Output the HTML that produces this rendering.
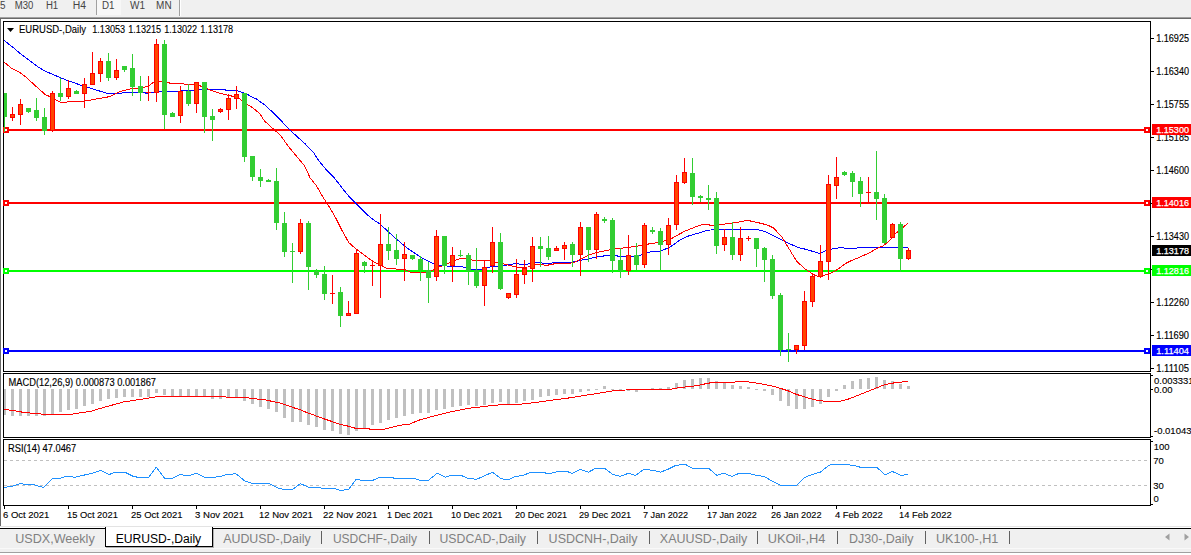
<!DOCTYPE html>
<html><head><meta charset="utf-8"><style>
html,body{margin:0;padding:0;background:#fff;width:1191px;height:555px;overflow:hidden;position:relative;font-family:"Liberation Sans", sans-serif;}
svg text{font-family:"Liberation Sans", sans-serif;}
</style></head><body>
<svg width="1191" height="555" viewBox="0 0 1191 555" style="position:absolute;left:0;top:0"><rect x="0" y="0" width="1191" height="17" fill="#f0f0f0"/><rect x="0" y="17" width="1191" height="1" fill="#a0a0a0"/><rect x="0" y="18" width="1191" height="1" fill="#696969"/><rect x="96" y="0" width="1" height="15" fill="#a0a0a0"/><rect x="97" y="0" width="24" height="15" fill="#f7f7f7"/><rect x="179" y="0" width="1" height="16" fill="#a0a0a0"/><rect x="180" y="0" width="1" height="16" fill="#ffffff"/><text x="0.0" y="9" font-size="10" fill="#444" textLength="5.5" lengthAdjust="spacingAndGlyphs">5</text><text x="14.8" y="9" font-size="10" fill="#444" textLength="18.5" lengthAdjust="spacingAndGlyphs">M30</text><text x="45.9" y="9" font-size="10" fill="#444" textLength="12.3" lengthAdjust="spacingAndGlyphs">H1</text><text x="72.8" y="9" font-size="10" fill="#444" textLength="13.3" lengthAdjust="spacingAndGlyphs">H4</text><text x="101.9" y="9" font-size="10" fill="#444" textLength="12.5" lengthAdjust="spacingAndGlyphs">D1</text><text x="130.0" y="9" font-size="10" fill="#444" textLength="15" lengthAdjust="spacingAndGlyphs">W1</text><text x="156.1" y="9" font-size="10" fill="#444" textLength="15.5" lengthAdjust="spacingAndGlyphs">MN</text><rect x="0" y="19" width="1" height="507" fill="#6a6a6a"/><defs><clipPath id="cm"><rect x="4" y="22" width="1146" height="349"/></clipPath><clipPath id="cmacd"><rect x="4" y="374" width="1146" height="63"/></clipPath><clipPath id="crsi"><rect x="4" y="440" width="1146" height="65"/></clipPath></defs><rect x="3" y="21" width="1148" height="1" fill="#000"/><rect x="3" y="371" width="1148" height="1" fill="#000"/><rect x="3" y="21" width="1" height="351" fill="#000"/><rect x="1150" y="21" width="1" height="351" fill="#000"/><rect x="3" y="373" width="1148" height="1" fill="#000"/><rect x="3" y="437" width="1148" height="1" fill="#000"/><rect x="3" y="373" width="1" height="65" fill="#000"/><rect x="1150" y="373" width="1" height="65" fill="#000"/><rect x="3" y="439" width="1148" height="1" fill="#000"/><rect x="3" y="505" width="1148" height="1" fill="#000"/><rect x="3" y="439" width="1" height="67" fill="#000"/><rect x="1150" y="439" width="1" height="67" fill="#000"/><g clip-path="url(#cm)"><rect x="4" y="129" width="1146" height="2" fill="#ff0000"/><rect x="4" y="202" width="1146" height="2" fill="#ff0000"/><rect x="4" y="270" width="1146" height="2" fill="#00ff00"/><rect x="4" y="350" width="1146" height="2" fill="#0000ff"/></g><rect x="3" y="127" width="6" height="6" fill="#ff0000"/><rect x="5" y="129" width="2" height="2" fill="#fff"/><rect x="3" y="200" width="6" height="6" fill="#ff0000"/><rect x="5" y="202" width="2" height="2" fill="#fff"/><rect x="3" y="268" width="6" height="6" fill="#00ff00"/><rect x="5" y="270" width="2" height="2" fill="#fff"/><rect x="3" y="348" width="6" height="6" fill="#0000ff"/><rect x="5" y="350" width="2" height="2" fill="#fff"/><g clip-path="url(#cm)"><polyline points="4.0,40.4 13.5,47.8 21.6,54.6 29.7,60.7 37.8,66.8 45.9,71.5 54.0,74.9 60.8,78.0 81.4,85.4 107.9,93.6 120.0,93.3 128.1,92.0 144.3,92.0 146.0,93.3 152.4,92.5 160.5,91.7 176.7,91.7 180.0,91.0 200.0,89.8 207.0,89.2 225.0,89.4 225.9,90.5 236.8,90.5 239.5,91.4 246.7,93.9 250.3,96.2 256.2,98.9 264.3,104.6 272.4,111.9 280.5,120.0 288.6,128.9 296.7,136.2 304.8,143.5 312.9,151.6 318.9,160.8 326.2,169.7 334.3,177.8 342.4,188.4 350.5,198.1 358.6,206.2 366.7,214.3 374.8,220.8 379.7,223.8 394.9,237.8 407.8,248.6 420.8,257.3 433.8,263.8 439.2,265.8 461.9,266.4 468.2,269.0 483.3,269.2 490.8,266.7 500.0,266.2 509.7,264.6 516.2,263.4 521.0,264.6 527.6,264.1 537.3,262.5 545.4,263.4 561.6,262.5 573.0,262.1 580.0,260.4 590.0,258.6 597.1,256.7 610.0,255.3 615.7,255.3 618.6,256.4 630.0,256.4 638.6,255.7 642.9,254.3 650.0,251.9 660.0,251.4 670.0,247.1 680.0,240.0 687.1,236.4 698.6,233.1 707.3,230.2 718.8,229.5 757.7,229.5 764.9,231.6 776.5,237.4 783.7,241.0 798.1,247.5 805.3,249.2 820.0,253.5 825.0,251.0 832.6,248.8 840.2,247.6 849.0,248.5 864.2,247.6 907.8,247.6" fill="none" stroke="#0000ff" stroke-width="1" shape-rendering="crispEdges"/><polyline points="4.0,62.0 12.2,68.8 19.6,72.2 25.7,76.9 32.4,83.0 40.5,90.4 45.9,95.1 50.0,96.5 56.8,100.5 60.8,102.3 84.0,101.2 109.2,96.7 120.0,91.7 128.1,89.3 136.2,88.2 144.3,87.2 149.2,85.6 154.0,82.0 158.9,81.2 167.0,82.0 170.2,83.3 180.0,83.3 185.4,84.2 194.4,84.2 198.9,85.1 201.6,86.7 207.0,88.5 210.6,90.3 216.0,92.1 222.3,93.9 228.6,95.3 234.0,96.6 239.5,98.9 242.2,100.7 247.6,104.7 252.1,107.4 260.0,113.7 264.3,120.8 272.4,128.1 280.5,135.4 288.6,146.7 296.7,156.5 304.8,166.2 310.0,177.8 316.5,185.9 323.0,197.3 329.4,207.0 335.9,218.3 342.4,231.3 348.9,242.7 356.2,249.1 373.2,261.6 387.3,268.8 404.6,269.2 411.0,272.5 426.0,272.5 434.0,269.6 439.2,267.1 448.0,263.3 455.6,260.2 460.6,258.3 465.6,258.9 473.2,260.2 489.6,260.2 497.1,262.7 503.2,263.8 509.7,265.4 516.2,267.0 521.0,267.3 527.6,267.0 537.3,264.1 547.0,265.4 551.9,264.1 572.9,262.9 580.0,259.4 589.0,254.9 598.0,252.2 607.0,250.4 617.8,248.6 628.6,247.3 641.3,245.5 648.5,244.0 660.0,242.3 671.4,238.6 684.3,231.4 700.1,225.1 705.9,224.4 713.1,225.6 721.7,224.4 733.2,223.0 747.6,220.4 756.3,222.2 767.8,225.1 773.6,228.0 782.2,237.4 790.9,251.8 796.6,261.2 805.3,269.1 813.9,274.8 819.7,277.0 832.6,272.4 837.7,269.3 845.3,263.6 851.6,260.5 857.9,257.9 864.2,255.2 870.5,252.2 876.8,248.5 883.1,245.9 888.2,242.1 892.0,237.7 895.8,233.3 900.8,229.5 907.8,223.2" fill="none" stroke="#ff0000" stroke-width="1" shape-rendering="crispEdges"/><rect x="4" y="93" width="1" height="39" fill="#32cd32"/><rect x="2" y="93" width="5" height="24" fill="#32cd32"/><rect x="12" y="107" width="1" height="14" fill="#ff0000"/><rect x="10" y="114" width="5" height="4" fill="#ff0000"/><rect x="11" y="115" width="3" height="2" fill="#ff4500"/><rect x="20" y="99" width="1" height="26" fill="#ff0000"/><rect x="18" y="104" width="5" height="11" fill="#ff0000"/><rect x="19" y="105" width="3" height="9" fill="#ff4500"/><rect x="28" y="108" width="1" height="5" fill="#32cd32"/><rect x="26" y="108" width="5" height="4" fill="#32cd32"/><rect x="36" y="98" width="1" height="23" fill="#32cd32"/><rect x="34" y="110" width="5" height="8" fill="#32cd32"/><rect x="44" y="108" width="1" height="27" fill="#32cd32"/><rect x="42" y="117" width="5" height="14" fill="#32cd32"/><rect x="52" y="91" width="1" height="41" fill="#ff0000"/><rect x="50" y="93" width="5" height="38" fill="#ff0000"/><rect x="51" y="94" width="3" height="36" fill="#ff4500"/><rect x="60" y="78" width="1" height="23" fill="#32cd32"/><rect x="58" y="93" width="5" height="4" fill="#32cd32"/><rect x="68" y="80" width="1" height="19" fill="#ff0000"/><rect x="66" y="88" width="5" height="9" fill="#ff0000"/><rect x="67" y="89" width="3" height="7" fill="#ff4500"/><rect x="76" y="90" width="1" height="4" fill="#32cd32"/><rect x="74" y="91" width="5" height="3" fill="#32cd32"/><rect x="84" y="78" width="1" height="30" fill="#ff0000"/><rect x="82" y="84" width="5" height="10" fill="#ff0000"/><rect x="83" y="85" width="3" height="8" fill="#ff4500"/><rect x="92" y="52" width="1" height="33" fill="#ff0000"/><rect x="90" y="73" width="5" height="12" fill="#ff0000"/><rect x="91" y="74" width="3" height="10" fill="#ff4500"/><rect x="100" y="58" width="1" height="24" fill="#ff0000"/><rect x="98" y="61" width="5" height="13" fill="#ff0000"/><rect x="99" y="62" width="3" height="11" fill="#ff4500"/><rect x="108" y="53" width="1" height="28" fill="#32cd32"/><rect x="106" y="61" width="5" height="17" fill="#32cd32"/><rect x="116" y="59" width="1" height="21" fill="#ff0000"/><rect x="114" y="70" width="5" height="8" fill="#ff0000"/><rect x="115" y="71" width="3" height="6" fill="#ff4500"/><rect x="124" y="66" width="1" height="6" fill="#32cd32"/><rect x="122" y="66" width="5" height="4" fill="#32cd32"/><rect x="132" y="54" width="1" height="42" fill="#32cd32"/><rect x="130" y="68" width="5" height="19" fill="#32cd32"/><rect x="140" y="76" width="1" height="25" fill="#32cd32"/><rect x="138" y="86" width="5" height="7" fill="#32cd32"/><rect x="148" y="76" width="1" height="25" fill="#ff0000"/><rect x="146" y="92" width="5" height="1" fill="#ff0000"/><rect x="156" y="39" width="1" height="63" fill="#ff0000"/><rect x="154" y="44" width="5" height="49" fill="#ff0000"/><rect x="155" y="45" width="3" height="47" fill="#ff4500"/><rect x="164" y="40" width="1" height="89" fill="#32cd32"/><rect x="162" y="44" width="5" height="71" fill="#32cd32"/><rect x="172" y="112" width="1" height="5" fill="#32cd32"/><rect x="170" y="113" width="5" height="4" fill="#32cd32"/><rect x="180" y="86" width="1" height="37" fill="#ff0000"/><rect x="178" y="91" width="5" height="25" fill="#ff0000"/><rect x="179" y="92" width="3" height="23" fill="#ff4500"/><rect x="188" y="84" width="1" height="22" fill="#32cd32"/><rect x="186" y="91" width="5" height="13" fill="#32cd32"/><rect x="196" y="82" width="1" height="31" fill="#ff0000"/><rect x="194" y="82" width="5" height="22" fill="#ff0000"/><rect x="195" y="83" width="3" height="20" fill="#ff4500"/><rect x="204" y="82" width="1" height="51" fill="#32cd32"/><rect x="202" y="82" width="5" height="35" fill="#32cd32"/><rect x="212" y="109" width="1" height="32" fill="#32cd32"/><rect x="210" y="116" width="5" height="4" fill="#32cd32"/><rect x="220" y="108" width="1" height="5" fill="#ff0000"/><rect x="218" y="109" width="5" height="3" fill="#ff0000"/><rect x="219" y="110" width="3" height="1" fill="#ff4500"/><rect x="228" y="94" width="1" height="26" fill="#ff0000"/><rect x="226" y="98" width="5" height="12" fill="#ff0000"/><rect x="227" y="99" width="3" height="10" fill="#ff4500"/><rect x="236" y="86" width="1" height="23" fill="#ff0000"/><rect x="234" y="94" width="5" height="5" fill="#ff0000"/><rect x="235" y="95" width="3" height="3" fill="#ff4500"/><rect x="244" y="93" width="1" height="69" fill="#32cd32"/><rect x="242" y="93" width="5" height="64" fill="#32cd32"/><rect x="252" y="156" width="1" height="25" fill="#32cd32"/><rect x="250" y="156" width="5" height="21" fill="#32cd32"/><rect x="260" y="169" width="1" height="18" fill="#32cd32"/><rect x="258" y="177" width="5" height="4" fill="#32cd32"/><rect x="268" y="179" width="1" height="3" fill="#32cd32"/><rect x="266" y="180" width="5" height="2" fill="#32cd32"/><rect x="276" y="168" width="1" height="62" fill="#32cd32"/><rect x="274" y="181" width="5" height="42" fill="#32cd32"/><rect x="284" y="212" width="1" height="45" fill="#32cd32"/><rect x="282" y="223" width="5" height="29" fill="#32cd32"/><rect x="292" y="243" width="1" height="40" fill="#32cd32"/><rect x="290" y="251" width="5" height="1" fill="#32cd32"/><rect x="300" y="219" width="1" height="35" fill="#ff0000"/><rect x="298" y="223" width="5" height="29" fill="#ff0000"/><rect x="299" y="224" width="3" height="27" fill="#ff4500"/><rect x="308" y="221" width="1" height="69" fill="#32cd32"/><rect x="306" y="223" width="5" height="44" fill="#32cd32"/><rect x="316" y="269" width="1" height="9" fill="#32cd32"/><rect x="314" y="271" width="5" height="4" fill="#32cd32"/><rect x="324" y="266" width="1" height="34" fill="#32cd32"/><rect x="322" y="274" width="5" height="20" fill="#32cd32"/><rect x="332" y="275" width="1" height="29" fill="#ff0000"/><rect x="330" y="293" width="5" height="1" fill="#ff0000"/><rect x="340" y="287" width="1" height="40" fill="#32cd32"/><rect x="338" y="292" width="5" height="24" fill="#32cd32"/><rect x="348" y="301" width="1" height="15" fill="#ff0000"/><rect x="346" y="313" width="5" height="3" fill="#ff0000"/><rect x="347" y="314" width="3" height="1" fill="#ff4500"/><rect x="356" y="250" width="1" height="64" fill="#ff0000"/><rect x="354" y="253" width="5" height="61" fill="#ff0000"/><rect x="355" y="254" width="3" height="59" fill="#ff4500"/><rect x="364" y="261" width="1" height="12" fill="#32cd32"/><rect x="362" y="262" width="5" height="4" fill="#32cd32"/><rect x="372" y="262" width="1" height="24" fill="#ff0000"/><rect x="370" y="265" width="5" height="1" fill="#ff0000"/><rect x="380" y="214" width="1" height="84" fill="#ff0000"/><rect x="378" y="244" width="5" height="22" fill="#ff0000"/><rect x="379" y="245" width="3" height="20" fill="#ff4500"/><rect x="388" y="227" width="1" height="33" fill="#32cd32"/><rect x="386" y="244" width="5" height="7" fill="#32cd32"/><rect x="396" y="234" width="1" height="31" fill="#32cd32"/><rect x="394" y="250" width="5" height="9" fill="#32cd32"/><rect x="404" y="242" width="1" height="39" fill="#ff0000"/><rect x="402" y="254" width="5" height="5" fill="#ff0000"/><rect x="403" y="255" width="3" height="3" fill="#ff4500"/><rect x="412" y="255" width="1" height="5" fill="#32cd32"/><rect x="410" y="255" width="5" height="4" fill="#32cd32"/><rect x="420" y="256" width="1" height="25" fill="#32cd32"/><rect x="418" y="259" width="5" height="11" fill="#32cd32"/><rect x="428" y="262" width="1" height="41" fill="#32cd32"/><rect x="426" y="270" width="5" height="8" fill="#32cd32"/><rect x="436" y="230" width="1" height="51" fill="#ff0000"/><rect x="434" y="236" width="5" height="41" fill="#ff0000"/><rect x="435" y="237" width="3" height="39" fill="#ff4500"/><rect x="444" y="236" width="1" height="38" fill="#32cd32"/><rect x="442" y="236" width="5" height="30" fill="#32cd32"/><rect x="452" y="247" width="1" height="35" fill="#ff0000"/><rect x="450" y="255" width="5" height="11" fill="#ff0000"/><rect x="451" y="256" width="3" height="9" fill="#ff4500"/><rect x="460" y="250" width="1" height="7" fill="#32cd32"/><rect x="458" y="255" width="5" height="1" fill="#32cd32"/><rect x="468" y="253" width="1" height="32" fill="#32cd32"/><rect x="466" y="255" width="5" height="16" fill="#32cd32"/><rect x="476" y="248" width="1" height="40" fill="#32cd32"/><rect x="474" y="270" width="5" height="16" fill="#32cd32"/><rect x="484" y="261" width="1" height="45" fill="#ff0000"/><rect x="482" y="267" width="5" height="19" fill="#ff0000"/><rect x="483" y="268" width="3" height="17" fill="#ff4500"/><rect x="492" y="227" width="1" height="46" fill="#ff0000"/><rect x="490" y="242" width="5" height="24" fill="#ff0000"/><rect x="491" y="243" width="3" height="22" fill="#ff4500"/><rect x="500" y="233" width="1" height="57" fill="#32cd32"/><rect x="498" y="242" width="5" height="47" fill="#32cd32"/><rect x="508" y="293" width="1" height="6" fill="#ff0000"/><rect x="506" y="293" width="5" height="5" fill="#ff0000"/><rect x="507" y="294" width="3" height="3" fill="#ff4500"/><rect x="516" y="259" width="1" height="39" fill="#ff0000"/><rect x="514" y="274" width="5" height="21" fill="#ff0000"/><rect x="515" y="275" width="3" height="19" fill="#ff4500"/><rect x="524" y="260" width="1" height="24" fill="#ff0000"/><rect x="522" y="268" width="5" height="7" fill="#ff0000"/><rect x="523" y="269" width="3" height="5" fill="#ff4500"/><rect x="532" y="237" width="1" height="45" fill="#ff0000"/><rect x="530" y="246" width="5" height="23" fill="#ff0000"/><rect x="531" y="247" width="3" height="21" fill="#ff4500"/><rect x="540" y="237" width="1" height="30" fill="#32cd32"/><rect x="538" y="246" width="5" height="3" fill="#32cd32"/><rect x="548" y="236" width="1" height="24" fill="#32cd32"/><rect x="546" y="248" width="5" height="9" fill="#32cd32"/><rect x="556" y="246" width="1" height="5" fill="#ff0000"/><rect x="554" y="248" width="5" height="3" fill="#ff0000"/><rect x="555" y="249" width="3" height="1" fill="#ff4500"/><rect x="564" y="242" width="1" height="18" fill="#ff0000"/><rect x="562" y="245" width="5" height="4" fill="#ff0000"/><rect x="563" y="246" width="3" height="2" fill="#ff4500"/><rect x="572" y="242" width="1" height="25" fill="#32cd32"/><rect x="570" y="244" width="5" height="11" fill="#32cd32"/><rect x="580" y="222" width="1" height="54" fill="#ff0000"/><rect x="578" y="227" width="5" height="28" fill="#ff0000"/><rect x="579" y="228" width="3" height="26" fill="#ff4500"/><rect x="588" y="227" width="1" height="35" fill="#32cd32"/><rect x="586" y="227" width="5" height="23" fill="#32cd32"/><rect x="596" y="212" width="1" height="47" fill="#ff0000"/><rect x="594" y="214" width="5" height="36" fill="#ff0000"/><rect x="595" y="215" width="3" height="34" fill="#ff4500"/><rect x="604" y="217" width="1" height="6" fill="#32cd32"/><rect x="602" y="219" width="5" height="2" fill="#32cd32"/><rect x="612" y="218" width="1" height="55" fill="#32cd32"/><rect x="610" y="220" width="5" height="41" fill="#32cd32"/><rect x="620" y="248" width="1" height="30" fill="#32cd32"/><rect x="618" y="260" width="5" height="11" fill="#32cd32"/><rect x="628" y="235" width="1" height="40" fill="#ff0000"/><rect x="626" y="255" width="5" height="16" fill="#ff0000"/><rect x="627" y="256" width="3" height="14" fill="#ff4500"/><rect x="636" y="243" width="1" height="27" fill="#32cd32"/><rect x="634" y="255" width="5" height="10" fill="#32cd32"/><rect x="644" y="223" width="1" height="45" fill="#ff0000"/><rect x="642" y="225" width="5" height="40" fill="#ff0000"/><rect x="643" y="226" width="3" height="38" fill="#ff4500"/><rect x="652" y="227" width="1" height="7" fill="#32cd32"/><rect x="650" y="230" width="5" height="2" fill="#32cd32"/><rect x="660" y="228" width="1" height="42" fill="#32cd32"/><rect x="658" y="231" width="5" height="14" fill="#32cd32"/><rect x="668" y="218" width="1" height="37" fill="#ff0000"/><rect x="666" y="225" width="5" height="20" fill="#ff0000"/><rect x="667" y="226" width="3" height="18" fill="#ff4500"/><rect x="676" y="175" width="1" height="55" fill="#ff0000"/><rect x="674" y="182" width="5" height="43" fill="#ff0000"/><rect x="675" y="183" width="3" height="41" fill="#ff4500"/><rect x="684" y="158" width="1" height="26" fill="#ff0000"/><rect x="682" y="172" width="5" height="11" fill="#ff0000"/><rect x="683" y="173" width="3" height="9" fill="#ff4500"/><rect x="692" y="158" width="1" height="47" fill="#32cd32"/><rect x="690" y="173" width="5" height="24" fill="#32cd32"/><rect x="700" y="195" width="1" height="7" fill="#32cd32"/><rect x="698" y="196" width="5" height="2" fill="#32cd32"/><rect x="708" y="185" width="1" height="25" fill="#32cd32"/><rect x="706" y="198" width="5" height="2" fill="#32cd32"/><rect x="716" y="192" width="1" height="62" fill="#32cd32"/><rect x="714" y="198" width="5" height="48" fill="#32cd32"/><rect x="724" y="229" width="1" height="22" fill="#ff0000"/><rect x="722" y="237" width="5" height="8" fill="#ff0000"/><rect x="723" y="238" width="3" height="6" fill="#ff4500"/><rect x="732" y="222" width="1" height="38" fill="#32cd32"/><rect x="730" y="237" width="5" height="18" fill="#32cd32"/><rect x="740" y="227" width="1" height="34" fill="#ff0000"/><rect x="738" y="238" width="5" height="17" fill="#ff0000"/><rect x="739" y="239" width="3" height="15" fill="#ff4500"/><rect x="748" y="236" width="1" height="5" fill="#ff0000"/><rect x="746" y="238" width="5" height="1" fill="#ff0000"/><rect x="756" y="238" width="1" height="29" fill="#32cd32"/><rect x="754" y="238" width="5" height="11" fill="#32cd32"/><rect x="764" y="247" width="1" height="35" fill="#32cd32"/><rect x="762" y="248" width="5" height="12" fill="#32cd32"/><rect x="772" y="255" width="1" height="44" fill="#32cd32"/><rect x="770" y="259" width="5" height="37" fill="#32cd32"/><rect x="780" y="293" width="1" height="63" fill="#32cd32"/><rect x="778" y="295" width="5" height="55" fill="#32cd32"/><rect x="788" y="333" width="1" height="29" fill="#32cd32"/><rect x="786" y="349" width="5" height="1" fill="#32cd32"/><rect x="796" y="345" width="1" height="9" fill="#ff0000"/><rect x="794" y="345" width="5" height="5" fill="#ff0000"/><rect x="795" y="346" width="3" height="3" fill="#ff4500"/><rect x="804" y="291" width="1" height="59" fill="#ff0000"/><rect x="802" y="301" width="5" height="45" fill="#ff0000"/><rect x="803" y="302" width="3" height="43" fill="#ff4500"/><rect x="812" y="273" width="1" height="34" fill="#ff0000"/><rect x="810" y="276" width="5" height="26" fill="#ff0000"/><rect x="811" y="277" width="3" height="24" fill="#ff4500"/><rect x="820" y="245" width="1" height="33" fill="#ff0000"/><rect x="818" y="261" width="5" height="16" fill="#ff0000"/><rect x="819" y="262" width="3" height="14" fill="#ff4500"/><rect x="828" y="175" width="1" height="105" fill="#ff0000"/><rect x="826" y="184" width="5" height="78" fill="#ff0000"/><rect x="827" y="185" width="3" height="76" fill="#ff4500"/><rect x="836" y="157" width="1" height="42" fill="#ff0000"/><rect x="834" y="177" width="5" height="9" fill="#ff0000"/><rect x="835" y="178" width="3" height="7" fill="#ff4500"/><rect x="844" y="171" width="1" height="5" fill="#32cd32"/><rect x="842" y="172" width="5" height="3" fill="#32cd32"/><rect x="852" y="171" width="1" height="26" fill="#32cd32"/><rect x="850" y="173" width="5" height="9" fill="#32cd32"/><rect x="860" y="177" width="1" height="30" fill="#32cd32"/><rect x="858" y="181" width="5" height="13" fill="#32cd32"/><rect x="868" y="177" width="1" height="25" fill="#ff0000"/><rect x="866" y="192" width="5" height="1" fill="#ff0000"/><rect x="876" y="151" width="1" height="69" fill="#32cd32"/><rect x="874" y="192" width="5" height="7" fill="#32cd32"/><rect x="884" y="194" width="1" height="50" fill="#32cd32"/><rect x="882" y="198" width="5" height="45" fill="#32cd32"/><rect x="892" y="223" width="1" height="15" fill="#ff0000"/><rect x="890" y="224" width="5" height="14" fill="#ff0000"/><rect x="891" y="225" width="3" height="12" fill="#ff4500"/><rect x="900" y="222" width="1" height="50" fill="#32cd32"/><rect x="898" y="224" width="5" height="35" fill="#32cd32"/><rect x="908" y="248" width="1" height="12" fill="#ff0000"/><rect x="906" y="250" width="5" height="9" fill="#ff0000"/><rect x="907" y="251" width="3" height="7" fill="#ff4500"/></g><rect x="1144" y="127" width="6" height="6" fill="#ff0000"/><rect x="1146" y="129" width="2" height="2" fill="#fff"/><rect x="1144" y="200" width="6" height="6" fill="#ff0000"/><rect x="1146" y="202" width="2" height="2" fill="#fff"/><rect x="1144" y="268" width="6" height="6" fill="#00ff00"/><rect x="1146" y="270" width="2" height="2" fill="#fff"/><rect x="1144" y="348" width="6" height="6" fill="#0000ff"/><rect x="1146" y="350" width="2" height="2" fill="#fff"/><rect x="1151" y="203" width="1" height="1" fill="#000"/><rect x="1151" y="269" width="1" height="1" fill="#000"/><rect x="1151" y="38" width="3" height="1" fill="#000"/><text x="1156.2" y="42" font-size="10" fill="#000" stroke="#000" stroke-width="0.15" textLength="32.8" lengthAdjust="spacingAndGlyphs">1.16925</text><rect x="1151" y="71" width="3" height="1" fill="#000"/><text x="1156.2" y="75" font-size="10" fill="#000" stroke="#000" stroke-width="0.15" textLength="32.8" lengthAdjust="spacingAndGlyphs">1.16340</text><rect x="1151" y="104" width="3" height="1" fill="#000"/><text x="1156.2" y="108" font-size="10" fill="#000" stroke="#000" stroke-width="0.15" textLength="32.8" lengthAdjust="spacingAndGlyphs">1.15755</text><rect x="1151" y="137" width="3" height="1" fill="#000"/><text x="1156.2" y="141" font-size="10" fill="#000" stroke="#000" stroke-width="0.15" textLength="32.8" lengthAdjust="spacingAndGlyphs">1.15185</text><rect x="1151" y="170" width="3" height="1" fill="#000"/><text x="1156.2" y="174" font-size="10" fill="#000" stroke="#000" stroke-width="0.15" textLength="32.8" lengthAdjust="spacingAndGlyphs">1.14600</text><rect x="1151" y="236" width="3" height="1" fill="#000"/><text x="1156.2" y="240" font-size="10" fill="#000" stroke="#000" stroke-width="0.15" textLength="32.8" lengthAdjust="spacingAndGlyphs">1.13430</text><rect x="1151" y="302" width="3" height="1" fill="#000"/><text x="1156.2" y="306" font-size="10" fill="#000" stroke="#000" stroke-width="0.15" textLength="32.8" lengthAdjust="spacingAndGlyphs">1.12260</text><rect x="1151" y="335" width="3" height="1" fill="#000"/><text x="1156.2" y="339" font-size="10" fill="#000" stroke="#000" stroke-width="0.15" textLength="32.8" lengthAdjust="spacingAndGlyphs">1.11690</text><rect x="1151" y="368" width="3" height="1" fill="#000"/><text x="1156.2" y="372" font-size="10" fill="#000" stroke="#000" stroke-width="0.15" textLength="32.8" lengthAdjust="spacingAndGlyphs">1.11105</text><rect x="1152" y="124" width="39" height="11" fill="#ff0000"/><text x="1156.2" y="133" font-size="9.5" fill="#fff" stroke="#fff" stroke-width="0.25" textLength="32.8" lengthAdjust="spacingAndGlyphs">1.15300</text><rect x="1152" y="197" width="39" height="11" fill="#ff0000"/><text x="1156.2" y="206" font-size="9.5" fill="#fff" stroke="#fff" stroke-width="0.25" textLength="32.8" lengthAdjust="spacingAndGlyphs">1.14016</text><rect x="1152" y="265" width="39" height="11" fill="#00ff00"/><text x="1156.2" y="274" font-size="9.5" fill="#fff" stroke="#fff" stroke-width="0.25" textLength="32.8" lengthAdjust="spacingAndGlyphs">1.12816</text><rect x="1152" y="245" width="39" height="11" fill="#000000"/><text x="1156.2" y="254" font-size="9.5" fill="#fff" stroke="#fff" stroke-width="0.25" textLength="32.8" lengthAdjust="spacingAndGlyphs">1.13178</text><rect x="1152" y="345" width="39" height="11" fill="#0000ff"/><text x="1156.2" y="354" font-size="9.5" fill="#fff" stroke="#fff" stroke-width="0.25" textLength="32.8" lengthAdjust="spacingAndGlyphs">1.11404</text><path d="M7 28 L14 28 L10.5 32 Z" fill="#000"/><text x="19" y="33" font-size="10" fill="#000" stroke="#000" stroke-width="0.12" textLength="67" lengthAdjust="spacingAndGlyphs">EURUSD-,Daily</text><text x="92.2" y="33" font-size="10" fill="#000" stroke="#000" stroke-width="0.12" textLength="33" lengthAdjust="spacingAndGlyphs">1.13053</text><text x="128.2" y="33" font-size="10" fill="#000" stroke="#000" stroke-width="0.12" textLength="33" lengthAdjust="spacingAndGlyphs">1.13215</text><text x="164.2" y="33" font-size="10" fill="#000" stroke="#000" stroke-width="0.12" textLength="33" lengthAdjust="spacingAndGlyphs">1.13022</text><text x="200.2" y="33" font-size="10" fill="#000" stroke="#000" stroke-width="0.12" textLength="33" lengthAdjust="spacingAndGlyphs">1.13178</text><g clip-path="url(#cmacd)"><rect x="3" y="389" width="3" height="26" fill="#c0c0c0"/><rect x="11" y="389" width="3" height="27" fill="#c0c0c0"/><rect x="19" y="389" width="3" height="27" fill="#c0c0c0"/><rect x="27" y="389" width="3" height="27" fill="#c0c0c0"/><rect x="35" y="389" width="3" height="27" fill="#c0c0c0"/><rect x="43" y="389" width="3" height="27" fill="#c0c0c0"/><rect x="51" y="389" width="3" height="25" fill="#c0c0c0"/><rect x="59" y="389" width="3" height="23" fill="#c0c0c0"/><rect x="67" y="389" width="3" height="21" fill="#c0c0c0"/><rect x="75" y="389" width="3" height="20" fill="#c0c0c0"/><rect x="83" y="389" width="3" height="17" fill="#c0c0c0"/><rect x="91" y="389" width="3" height="15" fill="#c0c0c0"/><rect x="99" y="389" width="3" height="12" fill="#c0c0c0"/><rect x="107" y="389" width="3" height="10" fill="#c0c0c0"/><rect x="115" y="389" width="3" height="9" fill="#c0c0c0"/><rect x="123" y="389" width="3" height="8" fill="#c0c0c0"/><rect x="131" y="389" width="3" height="8" fill="#c0c0c0"/><rect x="139" y="389" width="3" height="8" fill="#c0c0c0"/><rect x="147" y="389" width="3" height="8" fill="#c0c0c0"/><rect x="155" y="389" width="3" height="4" fill="#c0c0c0"/><rect x="163" y="389" width="3" height="6" fill="#c0c0c0"/><rect x="171" y="389" width="3" height="8" fill="#c0c0c0"/><rect x="179" y="389" width="3" height="7" fill="#c0c0c0"/><rect x="187" y="389" width="3" height="8" fill="#c0c0c0"/><rect x="195" y="389" width="3" height="8" fill="#c0c0c0"/><rect x="203" y="389" width="3" height="8" fill="#c0c0c0"/><rect x="211" y="389" width="3" height="10" fill="#c0c0c0"/><rect x="219" y="389" width="3" height="10" fill="#c0c0c0"/><rect x="227" y="389" width="3" height="8" fill="#c0c0c0"/><rect x="235" y="389" width="3" height="8" fill="#c0c0c0"/><rect x="243" y="389" width="3" height="12" fill="#c0c0c0"/><rect x="251" y="389" width="3" height="15" fill="#c0c0c0"/><rect x="259" y="389" width="3" height="18" fill="#c0c0c0"/><rect x="267" y="389" width="3" height="20" fill="#c0c0c0"/><rect x="275" y="389" width="3" height="23" fill="#c0c0c0"/><rect x="283" y="389" width="3" height="29" fill="#c0c0c0"/><rect x="291" y="389" width="3" height="33" fill="#c0c0c0"/><rect x="299" y="389" width="3" height="33" fill="#c0c0c0"/><rect x="307" y="389" width="3" height="36" fill="#c0c0c0"/><rect x="315" y="389" width="3" height="38" fill="#c0c0c0"/><rect x="323" y="389" width="3" height="41" fill="#c0c0c0"/><rect x="331" y="389" width="3" height="42" fill="#c0c0c0"/><rect x="339" y="389" width="3" height="45" fill="#c0c0c0"/><rect x="347" y="389" width="3" height="46" fill="#c0c0c0"/><rect x="355" y="389" width="3" height="42" fill="#c0c0c0"/><rect x="363" y="389" width="3" height="39" fill="#c0c0c0"/><rect x="371" y="389" width="3" height="36" fill="#c0c0c0"/><rect x="379" y="389" width="3" height="34" fill="#c0c0c0"/><rect x="387" y="389" width="3" height="31" fill="#c0c0c0"/><rect x="395" y="389" width="3" height="29" fill="#c0c0c0"/><rect x="403" y="389" width="3" height="27" fill="#c0c0c0"/><rect x="411" y="389" width="3" height="25" fill="#c0c0c0"/><rect x="419" y="389" width="3" height="24" fill="#c0c0c0"/><rect x="427" y="389" width="3" height="24" fill="#c0c0c0"/><rect x="435" y="389" width="3" height="21" fill="#c0c0c0"/><rect x="443" y="389" width="3" height="20" fill="#c0c0c0"/><rect x="451" y="389" width="3" height="18" fill="#c0c0c0"/><rect x="459" y="389" width="3" height="17" fill="#c0c0c0"/><rect x="467" y="389" width="3" height="16" fill="#c0c0c0"/><rect x="475" y="389" width="3" height="17" fill="#c0c0c0"/><rect x="483" y="389" width="3" height="16" fill="#c0c0c0"/><rect x="491" y="389" width="3" height="14" fill="#c0c0c0"/><rect x="499" y="389" width="3" height="13" fill="#c0c0c0"/><rect x="507" y="389" width="3" height="15" fill="#c0c0c0"/><rect x="515" y="389" width="3" height="14" fill="#c0c0c0"/><rect x="523" y="389" width="3" height="12" fill="#c0c0c0"/><rect x="531" y="389" width="3" height="11" fill="#c0c0c0"/><rect x="539" y="389" width="3" height="8" fill="#c0c0c0"/><rect x="547" y="389" width="3" height="7" fill="#c0c0c0"/><rect x="555" y="389" width="3" height="6" fill="#c0c0c0"/><rect x="563" y="389" width="3" height="5" fill="#c0c0c0"/><rect x="571" y="389" width="3" height="5" fill="#c0c0c0"/><rect x="579" y="389" width="3" height="3" fill="#c0c0c0"/><rect x="587" y="389" width="3" height="2" fill="#c0c0c0"/><rect x="595" y="389" width="3" height="1" fill="#c0c0c0"/><rect x="603" y="386" width="3" height="3" fill="#c0c0c0"/><rect x="611" y="389" width="3" height="1" fill="#c0c0c0"/><rect x="619" y="389" width="3" height="2" fill="#c0c0c0"/><rect x="627" y="389" width="3" height="2" fill="#c0c0c0"/><rect x="635" y="389" width="3" height="3" fill="#c0c0c0"/><rect x="643" y="389" width="3" height="1" fill="#c0c0c0"/><rect x="651" y="388" width="3" height="1" fill="#c0c0c0"/><rect x="659" y="388" width="3" height="1" fill="#c0c0c0"/><rect x="667" y="387" width="3" height="2" fill="#c0c0c0"/><rect x="675" y="383" width="3" height="6" fill="#c0c0c0"/><rect x="683" y="380" width="3" height="9" fill="#c0c0c0"/><rect x="691" y="379" width="3" height="10" fill="#c0c0c0"/><rect x="699" y="378" width="3" height="11" fill="#c0c0c0"/><rect x="707" y="378" width="3" height="11" fill="#c0c0c0"/><rect x="715" y="381" width="3" height="8" fill="#c0c0c0"/><rect x="723" y="383" width="3" height="6" fill="#c0c0c0"/><rect x="731" y="385" width="3" height="4" fill="#c0c0c0"/><rect x="739" y="386" width="3" height="3" fill="#c0c0c0"/><rect x="747" y="387" width="3" height="2" fill="#c0c0c0"/><rect x="755" y="389" width="3" height="1" fill="#c0c0c0"/><rect x="763" y="389" width="3" height="2" fill="#c0c0c0"/><rect x="771" y="389" width="3" height="6" fill="#c0c0c0"/><rect x="779" y="389" width="3" height="12" fill="#c0c0c0"/><rect x="787" y="389" width="3" height="17" fill="#c0c0c0"/><rect x="795" y="389" width="3" height="20" fill="#c0c0c0"/><rect x="803" y="389" width="3" height="20" fill="#c0c0c0"/><rect x="811" y="389" width="3" height="18" fill="#c0c0c0"/><rect x="819" y="389" width="3" height="15" fill="#c0c0c0"/><rect x="827" y="389" width="3" height="8" fill="#c0c0c0"/><rect x="835" y="389" width="3" height="2" fill="#c0c0c0"/><rect x="843" y="385" width="3" height="4" fill="#c0c0c0"/><rect x="851" y="381" width="3" height="8" fill="#c0c0c0"/><rect x="859" y="379" width="3" height="10" fill="#c0c0c0"/><rect x="867" y="378" width="3" height="11" fill="#c0c0c0"/><rect x="875" y="377" width="3" height="12" fill="#c0c0c0"/><rect x="883" y="380" width="3" height="9" fill="#c0c0c0"/><rect x="891" y="381" width="3" height="8" fill="#c0c0c0"/><rect x="899" y="384" width="3" height="5" fill="#c0c0c0"/><rect x="907" y="386" width="3" height="3" fill="#c0c0c0"/><polyline points="4.0,409.3 12.0,410.4 25.0,412.6 36.0,413.5 44.0,414.4 70.0,414.4 80.0,412.9 92.0,411.0 100.0,408.5 123.6,401.9 140.4,399.4 160.5,396.2 224.3,396.2 226.0,397.2 248.0,397.2 249.4,398.2 256.1,398.2 257.5,399.1 264.2,399.5 270.9,401.1 280.3,403.1 287.0,405.2 293.8,407.8 300.5,409.9 308.5,413.2 315.3,415.6 323.3,418.6 331.4,421.3 339.5,424.2 347.5,426.0 355.6,428.3 367.7,428.3 370.4,429.4 383.8,429.4 390.5,427.7 395.9,426.4 400.0,425.3 410.0,424.0 418.5,420.3 433.6,416.1 450.4,411.9 467.2,408.5 484.0,406.5 504.1,404.3 519.2,404.3 534.3,402.7 551.1,400.2 567.9,398.1 584.7,395.4 600.0,393.1 606.8,391.8 615.2,390.5 640.4,389.3 670.6,389.3 679.0,387.6 690.8,386.5 699.2,385.1 707.5,383.4 714.2,382.1 734.4,382.1 737.8,381.4 744.5,381.4 752.9,382.6 761.3,383.8 771.4,385.9 779.7,388.1 790.0,391.5 796.2,394.3 808.8,398.2 817.2,400.2 825.6,401.4 839.0,401.4 847.4,399.4 859.2,394.9 876.0,388.1 884.3,384.8 892.7,383.1 907.8,381.3" fill="none" stroke="#ff0000" stroke-width="1" shape-rendering="crispEdges"/></g><text x="8.5" y="386" font-size="10" fill="#000" stroke="#000" stroke-width="0.15" textLength="147.5" lengthAdjust="spacingAndGlyphs">MACD(12,26,9) 0.000873 0.001867</text><rect x="1151" y="375" width="2" height="1" fill="#000"/><text x="1154" y="384" font-size="9.5" fill="#000" stroke="#000" stroke-width="0.12">0.003331</text><rect x="1151" y="389" width="2" height="1" fill="#000"/><text x="1154" y="393" font-size="9.5" fill="#000" stroke="#000" stroke-width="0.12">0.00</text><rect x="1151" y="436" width="2" height="1" fill="#000"/><text x="1154" y="434" font-size="9.5" fill="#000" stroke="#000" stroke-width="0.12">-0.010439</text><g clip-path="url(#crsi)"><line x1="4" y1="460.5" x2="1149" y2="460.5" stroke="#c0c0c0" stroke-width="1" stroke-dasharray="3,3"/><line x1="4" y1="485.5" x2="1149" y2="485.5" stroke="#c0c0c0" stroke-width="1" stroke-dasharray="3,3"/><polyline points="4.2,487.4 12.6,486.2 20.2,483.7 27.7,484.5 32.7,484.5 36.1,485.4 43.7,487.4 52.1,478.7 60.5,478.3 67.2,476.1 74.7,477.3 83.1,475.3 92.4,473.3 100.8,470.3 109.2,474.5 115.0,472.3 125.1,472.3 132.7,476.1 137.7,477.3 148.6,477.3 156.2,467.2 164.6,478.3 172.1,478.3 180.5,474.5 188.1,476.1 196.4,473.2 204.3,477.2 215.2,477.2 217.7,476.4 221.1,476.4 226.1,474.7 231.1,474.7 235.3,473.2 245.4,481.4 252.1,483.2 268.9,483.2 277.3,487.8 284.0,489.5 292.4,489.5 300.5,483.6 308.4,487.3 320.1,487.3 321.8,488.3 334.4,488.6 341.1,490.6 348.7,489.1 356.2,479.4 361.3,480.2 373.0,480.2 379.8,477.2 392.6,477.2 394.2,478.5 414.4,478.5 419.4,480.2 428.7,480.2 437.1,473.2 445.1,477.2 450.5,475.5 461.4,475.5 468.1,478.5 472.3,478.5 475.7,479.4 481.6,477.2 492.5,472.2 500.9,478.5 505.1,479.4 509.3,479.4 514.3,476.9 519.3,476.0 522.7,475.5 531.1,472.2 544.5,472.2 546.2,473.5 551.2,473.5 553.8,472.2 560.5,471.5 567.2,471.5 572.2,473.5 580.0,469.3 588.4,472.2 596.0,468.1 604.3,468.1 612.7,474.3 620.3,476.4 628.7,473.2 635.4,475.5 643.8,469.3 648.8,469.8 653.9,470.5 660.6,472.2 669.0,468.8 675.7,465.4 685.0,464.3 692.5,468.1 708.5,468.1 716.9,475.5 723.6,473.2 732.0,476.5 738.7,473.5 749.6,473.5 756.3,475.5 763.9,476.4 770.6,480.2 780.9,485.4 796.8,485.4 804.4,477.7 809.4,475.5 815.3,473.5 820.3,472.2 828.7,465.4 832.9,464.3 848.0,464.3 850.6,465.4 853.9,465.4 859.8,467.1 876.6,467.1 885.0,474.9 892.5,471.5 900.9,475.5 907.7,474.3" fill="none" stroke="#1e90ff" stroke-width="1" shape-rendering="crispEdges"/></g><text x="8" y="452" font-size="10" fill="#000" stroke="#000" stroke-width="0.15" textLength="68.2" lengthAdjust="spacingAndGlyphs">RSI(14) 47.0467</text><rect x="1151" y="441" width="2" height="1" fill="#000"/><rect x="1151" y="504" width="2" height="1" fill="#000"/><text x="1153.8" y="450" font-size="9.5" fill="#000" stroke="#000" stroke-width="0.12">100</text><text x="1153.3" y="464" font-size="9.5" fill="#000" stroke="#000" stroke-width="0.12">70</text><text x="1153.3" y="489" font-size="9.5" fill="#000" stroke="#000" stroke-width="0.12">30</text><text x="1153.5" y="502" font-size="9.5" fill="#000" stroke="#000" stroke-width="0.12">0</text><rect x="4" y="506" width="1" height="3" fill="#000"/><text x="3" y="518" font-size="9.5" fill="#000" stroke="#000" stroke-width="0.12" textLength="46.4" lengthAdjust="spacingAndGlyphs">6 Oct 2021</text><rect x="68" y="506" width="1" height="3" fill="#000"/><text x="67" y="518" font-size="9.5" fill="#000" stroke="#000" stroke-width="0.12" textLength="50.9" lengthAdjust="spacingAndGlyphs">15 Oct 2021</text><rect x="132" y="506" width="1" height="3" fill="#000"/><text x="131" y="518" font-size="9.5" fill="#000" stroke="#000" stroke-width="0.12" textLength="51.5" lengthAdjust="spacingAndGlyphs">25 Oct 2021</text><rect x="196" y="506" width="1" height="3" fill="#000"/><text x="195" y="518" font-size="9.5" fill="#000" stroke="#000" stroke-width="0.12" textLength="49" lengthAdjust="spacingAndGlyphs">3 Nov 2021</text><rect x="260" y="506" width="1" height="3" fill="#000"/><text x="259" y="518" font-size="9.5" fill="#000" stroke="#000" stroke-width="0.12" textLength="53.9" lengthAdjust="spacingAndGlyphs">12 Nov 2021</text><rect x="324" y="506" width="1" height="3" fill="#000"/><text x="323" y="518" font-size="9.5" fill="#000" stroke="#000" stroke-width="0.12" textLength="54.2" lengthAdjust="spacingAndGlyphs">22 Nov 2021</text><rect x="388" y="506" width="1" height="3" fill="#000"/><text x="387" y="518" font-size="9.5" fill="#000" stroke="#000" stroke-width="0.12" textLength="46" lengthAdjust="spacingAndGlyphs">1 Dec 2021</text><rect x="452" y="506" width="1" height="3" fill="#000"/><text x="451" y="518" font-size="9.5" fill="#000" stroke="#000" stroke-width="0.12" textLength="51.3" lengthAdjust="spacingAndGlyphs">10 Dec 2021</text><rect x="516" y="506" width="1" height="3" fill="#000"/><text x="515" y="518" font-size="9.5" fill="#000" stroke="#000" stroke-width="0.12" textLength="52.1" lengthAdjust="spacingAndGlyphs">20 Dec 2021</text><rect x="580" y="506" width="1" height="3" fill="#000"/><text x="579" y="518" font-size="9.5" fill="#000" stroke="#000" stroke-width="0.12" textLength="52.2" lengthAdjust="spacingAndGlyphs">29 Dec 2021</text><rect x="644" y="506" width="1" height="3" fill="#000"/><text x="643" y="518" font-size="9.5" fill="#000" stroke="#000" stroke-width="0.12" textLength="45" lengthAdjust="spacingAndGlyphs">7 Jan 2022</text><rect x="708" y="506" width="1" height="3" fill="#000"/><text x="707" y="518" font-size="9.5" fill="#000" stroke="#000" stroke-width="0.12" textLength="49.7" lengthAdjust="spacingAndGlyphs">17 Jan 2022</text><rect x="772" y="506" width="1" height="3" fill="#000"/><text x="771" y="518" font-size="9.5" fill="#000" stroke="#000" stroke-width="0.12" textLength="50.5" lengthAdjust="spacingAndGlyphs">26 Jan 2022</text><rect x="836" y="506" width="1" height="3" fill="#000"/><text x="835" y="518" font-size="9.5" fill="#000" stroke="#000" stroke-width="0.12" textLength="47.7" lengthAdjust="spacingAndGlyphs">4 Feb 2022</text><rect x="900" y="506" width="1" height="3" fill="#000"/><text x="899" y="518" font-size="9.5" fill="#000" stroke="#000" stroke-width="0.12" textLength="52.6" lengthAdjust="spacingAndGlyphs">14 Feb 2022</text><rect x="0" y="526" width="1191" height="1" fill="#e3e3e3"/><rect x="0" y="527" width="1191" height="28" fill="#f0f0f0"/><rect x="0" y="527" width="1191" height="1" fill="#ffffff"/><rect x="0" y="528" width="1191" height="1" fill="#000"/><rect x="0" y="548" width="1191" height="1" fill="#f9f9f9"/><rect x="0" y="552" width="1191" height="1" fill="#a0a0a0"/><rect x="106" y="547" width="108" height="1" fill="#b0b0b0"/><rect x="213" y="529" width="1" height="19" fill="#b0b0b0"/><rect x="0" y="553" width="1191" height="2" fill="#ffffff"/><rect x="105" y="527" width="108" height="20" fill="#000"/><rect x="106" y="527" width="106" height="19" fill="#fff"/><text x="15.2" y="543" font-size="12" fill="#808080" textLength="79.5" lengthAdjust="spacingAndGlyphs">USDX,Weekly</text><text x="115.7" y="543" font-size="12" fill="#000" textLength="85.5" lengthAdjust="spacingAndGlyphs">EURUSD-,Daily</text><text x="223.2" y="543" font-size="12" fill="#808080" textLength="87.5" lengthAdjust="spacingAndGlyphs">AUDUSD-,Daily</text><text x="332.9" y="543" font-size="12" fill="#808080" textLength="84" lengthAdjust="spacingAndGlyphs">USDCHF-,Daily</text><text x="439.5" y="543" font-size="12" fill="#808080" textLength="86.5" lengthAdjust="spacingAndGlyphs">USDCAD-,Daily</text><text x="548.6" y="543" font-size="12" fill="#808080" textLength="89" lengthAdjust="spacingAndGlyphs">USDCNH-,Daily</text><text x="659.8" y="543" font-size="12" fill="#808080" textLength="87.5" lengthAdjust="spacingAndGlyphs">XAUUSD-,Daily</text><text x="767.7" y="543" font-size="12" fill="#808080" textLength="57.7" lengthAdjust="spacingAndGlyphs">UKOil-,H4</text><text x="849.1" y="543" font-size="12" fill="#808080" textLength="64.3" lengthAdjust="spacingAndGlyphs">DJ30-,Daily</text><text x="935.9" y="543" font-size="12" fill="#808080" textLength="62.5" lengthAdjust="spacingAndGlyphs">UK100-,H1</text><rect x="321" y="531" width="1" height="13" fill="#606060"/><rect x="429" y="531" width="1" height="13" fill="#606060"/><rect x="537" y="531" width="1" height="13" fill="#606060"/><rect x="649" y="531" width="1" height="13" fill="#606060"/><rect x="757" y="531" width="1" height="13" fill="#606060"/><rect x="837" y="531" width="1" height="13" fill="#606060"/><rect x="925" y="531" width="1" height="13" fill="#606060"/><rect x="1009" y="531" width="1" height="13" fill="#606060"/><path d="M1165 537 L1169.5 533.5 L1169.5 540.5 Z" fill="#a0a0a0"/><path d="M1184.5 533.5 L1189 537 L1184.5 540.5 Z" fill="#a0a0a0"/></svg>
</body></html>
